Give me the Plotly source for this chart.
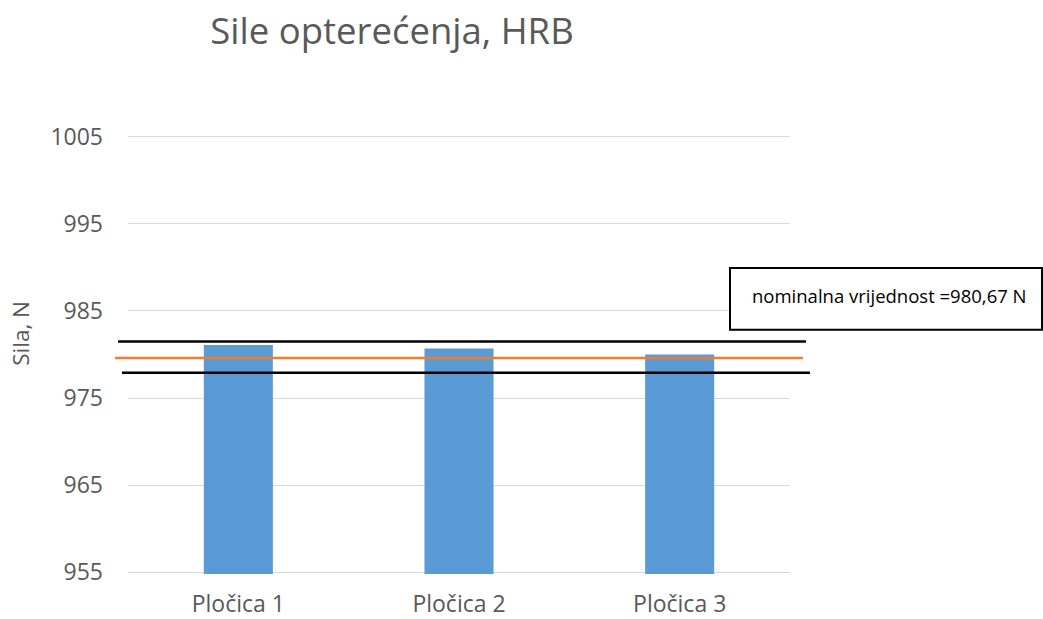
import plotly.graph_objects as go

categories = ["Pločica 1", "Pločica 2", "Pločica 3"]
forces = [981.1, 980.7, 980.0]
upper_limit = 981.5
nominal_line = 979.6
lower_limit = 977.9
y_ticks = [955, 965, 975, 985, 995, 1005]
title = "Sile opterećenja, HRB"
note = "nominalna vrijednost =980,67 N"

W, H = 1043, 619
L, R, T, B = 128, 790, 135.0, 574.4

def px(x):
    return (x - L) / (R - L)

def py(y):
    return (B - y) / (B - T)

grey = "#595959"
font = "Open Sans"

fig = go.Figure()
fig.add_trace(go.Bar(x=categories, y=forces, marker_color="#5B9BD5",
                     marker_line_width=0, width=0.313, hoverinfo="skip"))

for yv, col, x0, x1 in [(upper_limit, "black", 118, 806),
                        (nominal_line, "#ED7D31", 115, 803),
                        (lower_limit, "black", 122, 810)]:
    fig.add_shape(type="line", xref="paper", yref="y", x0=px(x0), x1=px(x1),
                  y0=yv, y1=yv, line=dict(color=col, width=2.6))

fig.add_shape(type="rect", xref="paper", yref="paper", x0=px(730), x1=px(1042),
              y0=py(330), y1=py(268), line=dict(color="black", width=2),
              fillcolor="white")
fig.add_annotation(text=note, xref="paper", yref="paper", x=px(889), y=py(296),
                   xanchor="center", yanchor="middle", showarrow=False,
                   font=dict(family=font, size=18.5, color="black"))

fig.add_annotation(text="Sila, N", xref="paper", yref="paper", x=px(21), y=py(334),
                   xanchor="center", yanchor="middle",
                   textangle=-90, showarrow=False,
                   font=dict(family=font, size=22.5, color=grey))

fig.update_layout(
    width=W, height=H,
    margin=dict(l=L, r=W - R, t=T, b=H - B, autoexpand=False),
    plot_bgcolor="white", paper_bgcolor="white",
    showlegend=False,
    title=dict(text=title, x=392 / W, xanchor="center", y=1 - 31 / H, yanchor="middle",
               font=dict(family=font, size=36.5, color=grey)),
)
fig.update_yaxes(range=[954.8, 1005.2], tickvals=y_ticks, showgrid=True,
                 gridcolor="#D9D9D9", gridwidth=1, zeroline=False,
                 tickfont=dict(family=font, size=23, color=grey),
                 ticklabelstandoff=24, showline=False, automargin=False)
fig.update_xaxes(showgrid=False, showline=False, ticks="",
                 tickfont=dict(family=font, size=23, color=grey),
                 ticklabelstandoff=14, automargin=False)

fig.write_html("out.html", config={"displayModeBar": False},
               post_script="document.body.style.margin='0';")
